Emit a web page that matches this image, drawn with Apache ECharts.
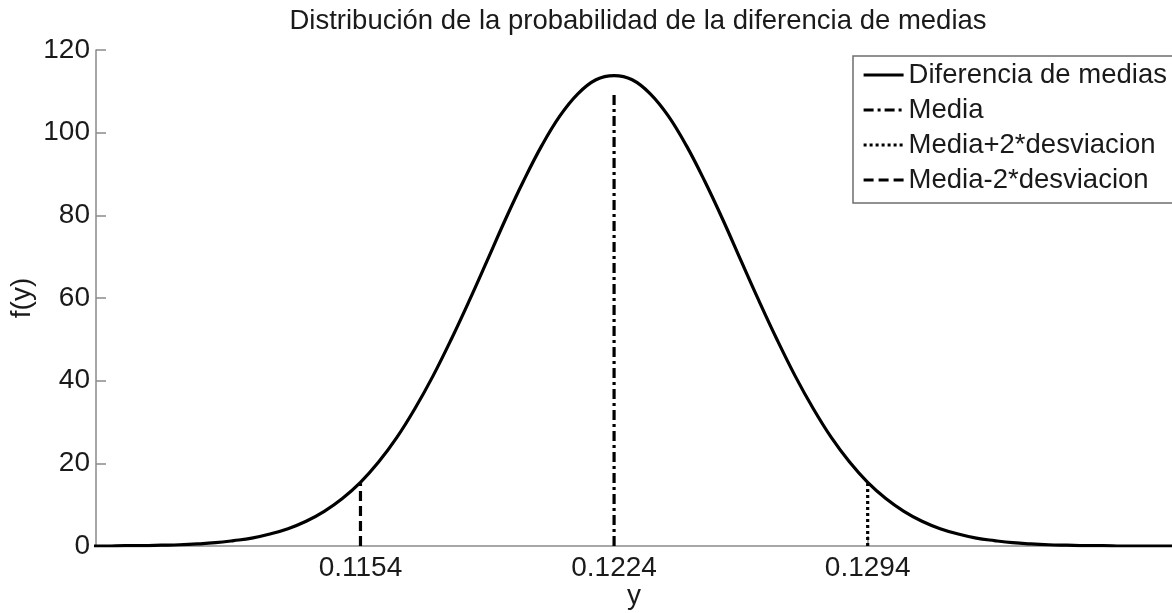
<!DOCTYPE html>
<html>
<head>
<meta charset="utf-8">
<script src="https://cdn.jsdelivr.net/npm/echarts@6/dist/echarts.min.js"></script>
<style>
html,body{margin:0;padding:0;background:#fff;}
#chart{width:1172px;height:613px;}
</style>
</head>
<body>
<div id="chart"></div>
<script>
// Sample points along y
var xValues = [
  0.1079, 0.1084, 0.1089, 0.1094, 0.1099, 0.1104, 0.1109, 0.1114, 0.1119, 0.1124,
  0.1129, 0.1134, 0.1139, 0.1144, 0.1149, 0.1154, 0.1159, 0.1164, 0.1169, 0.1174,
  0.1179, 0.1184, 0.1189, 0.1194, 0.1199, 0.1204, 0.1209, 0.1214, 0.1219, 0.1224,
  0.1229, 0.1234, 0.1239, 0.1244, 0.1249, 0.1254, 0.1259, 0.1264, 0.1269, 0.1274,
  0.1279, 0.1284, 0.1289, 0.1294, 0.1299, 0.1304, 0.1309, 0.1314, 0.1319, 0.1324,
  0.1329, 0.1334, 0.1339, 0.1344, 0.1349, 0.1354, 0.1359, 0.1364, 0.1369, 0.1374,
  0.1379
];
// f(y) values
var densityValues = [
  0.0, 0.0, 0.1, 0.1, 0.2, 0.3, 0.5, 0.8, 1.3, 1.9,
  2.9, 4.2, 6.0, 8.4, 11.5, 15.4, 20.3, 26.2, 33.2, 41.1,
  49.9, 59.3, 69.1, 79.0, 88.3, 96.8, 104.0, 109.4, 112.8, 113.8,
  112.8, 109.4, 104.0, 96.8, 88.3, 79.0, 69.1, 59.3, 49.9, 41.1,
  33.2, 26.2, 20.3, 15.4, 11.5, 8.4, 6.0, 4.2, 2.9, 1.9,
  1.3, 0.8, 0.5, 0.3, 0.2, 0.1, 0.1, 0.0, 0.0, 0.0,
  0.0
];
// Vertical marker lines
var meanX = 0.1224, meanTop = 110;
var plusX = 0.1294, plusTop = 15.2;
var minusX = 0.1154, minusTop = 15.2;
var xTickValues = [0.1154, 0.1224, 0.1294];
var xTickLabels = ['0.1154', '0.1224', '0.1294'];
var seriesNames = ['Diferencia de medias', 'Media', 'Media+2*desviacion', 'Media-2*desviacion'];
var titleText = 'Distribución de la probabilidad de la diferencia de medias';

var curveData = xValues.map(function (x, i) { return [x, densityValues[i]]; });
var font = '"Liberation Sans", Arial, sans-serif';
var axisGray = '#8a8a8a';
var textColor = '#1a1a1a';

var chart = echarts.init(document.getElementById('chart'), null, {renderer: 'canvas'});
chart.setOption({
  animation: false,
  backgroundColor: '#ffffff',
  title: {
    text: titleText,
    left: 633, textAlign: 'center',
    top: 2,
    textStyle: {fontFamily: font, fontSize: 27.5, fontWeight: 'normal', color: textColor}
  },
  legend: {
    orient: 'vertical',
    left: 853, top: 56,
    data: seriesNames,
    itemWidth: 40, itemHeight: 14, itemGap: 3,
    padding: [3, 15, 7, 9],
    borderColor: '#6e6e6e', borderWidth: 1.5,
    backgroundColor: '#ffffff',
    selectedMode: false,
    itemStyle: {color: 'transparent', borderWidth: 0, opacity: 0},
    lineStyle: {width: 3.2},
    textStyle: {fontFamily: font, fontSize: 27.5, color: textColor, lineHeight: 32}
  },
  grid: {left: 96, right: 0, top: 50, bottom: 67, containLabel: false, outerBoundsMode: 'none'},
  xAxis: {
    type: 'value',
    min: 0.1081, max: 0.1378,
    name: 'y', nameLocation: 'middle', nameGap: 36, nameMoveOverlap: false,
    nameTextStyle: {fontFamily: font, fontSize: 28, color: textColor, verticalAlign: 'top'},
    axisLine: {show: true, onZero: false, lineStyle: {color: axisGray, width: 1.5}},
    axisTick: {show: true, inside: true, length: 10, customValues: xTickValues, lineStyle: {color: axisGray, width: 1.5}},
    axisLabel: {
      customValues: xTickValues,
      margin: 8,
      fontFamily: font, fontSize: 28, color: textColor,
      formatter: function (v) {
        var i = xTickValues.indexOf(v);
        return i >= 0 ? xTickLabels[i] : '';
      }
    },
    splitLine: {show: false}
  },
  yAxis: {
    type: 'value',
    min: 0, max: 120, interval: 20,
    name: 'f(y)', nameLocation: 'middle', nameGap: 60, nameRotate: 90, nameMoveOverlap: false,
    nameTextStyle: {fontFamily: font, fontSize: 28, color: textColor},
    axisLine: {show: true, lineStyle: {color: axisGray, width: 1.5}},
    axisTick: {show: true, inside: true, length: 10, lineStyle: {color: axisGray, width: 1.5}},
    axisLabel: {margin: 6, fontFamily: font, fontSize: 28, color: textColor},
    splitLine: {show: false}
  },
  series: [
    {
      name: seriesNames[0], type: 'line', data: curveData,
      symbol: 'none', smooth: 0.4, z: 5,
      lineStyle: {color: '#000', width: 3.2},
      itemStyle: {color: '#000'},
      emphasis: {disabled: true}
    },
    {
      name: seriesNames[1], type: 'line', data: [[meanX, 0], [meanX, meanTop]],
      symbol: 'none', z: 4,
      lineStyle: {color: '#000', width: 3.2, type: [10, 4, 3, 4]},
      itemStyle: {color: '#000'},
      emphasis: {disabled: true}
    },
    {
      name: seriesNames[2], type: 'line', data: [[plusX, 0], [plusX, plusTop]],
      symbol: 'none', z: 4,
      lineStyle: {color: '#000', width: 3.2, type: [3, 3]},
      itemStyle: {color: '#000'},
      emphasis: {disabled: true}
    },
    {
      name: seriesNames[3], type: 'line', data: [[minusX, 0], [minusX, minusTop]],
      symbol: 'none', z: 4,
      lineStyle: {color: '#000', width: 3.2, type: [10, 5]},
      itemStyle: {color: '#000'},
      emphasis: {disabled: true}
    }
  ]
});
</script>
</body>
</html>
